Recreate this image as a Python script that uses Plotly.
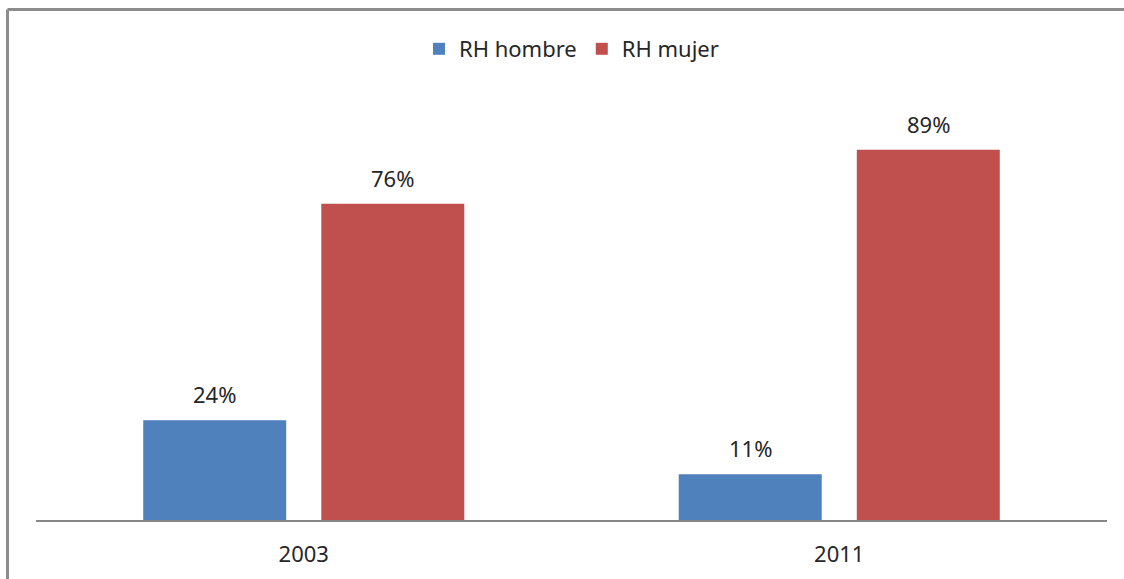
import plotly.graph_objects as go

years = ["2003", "2011"]
hombre = [24, 11]
mujer = [76, 89]

W, H = 1124, 579
ml, mr, mt, mb = 36, 17, 104, 59
pw, ph = W - ml - mr, H - mt - mb
bargap, bargroupgap = 0.335, 0.197
slot = (1 - bargap) / 2

fig = go.Figure()
fig.add_trace(go.Bar(name="RH hombre", x=years, y=hombre, marker_color="#4F81BD"))
fig.add_trace(go.Bar(name="RH mujer", x=years, y=mujer, marker_color="#C0504D"))
fig.update_traces(marker_line_width=0)

# value labels above each bar
for k, vals in enumerate([hombre, mujer]):
    off = (k - 0.5) * slot
    for i, v in enumerate(vals):
        fig.add_annotation(x=i + off, y=v, xref="x", yref="y", text=f"{v}%",
                           showarrow=False, yanchor="middle", yshift=26,
                           font=dict(size=22, color="#262626"))

# outer frame (left and top edges)
gray = "#8c8c8c"
fx = (7.5 - ml) / pw
fy = (H - mb - 9.5) / ph
fig.add_shape(type="line", xref="paper", yref="paper",
              x0=fx, x1=fx, y0=fy, y1=-1, line=dict(color=gray, width=3))
fig.add_shape(type="line", xref="paper", yref="paper",
              x0=fx, x1=1.2, y0=fy, y1=fy, line=dict(color=gray, width=3))

fig.update_layout(
    width=W, height=H,
    margin=dict(l=ml, r=mr, t=mt, b=mb),
    paper_bgcolor="white", plot_bgcolor="white",
    barmode="group", bargap=bargap, bargroupgap=bargroupgap,
    font=dict(family="Noto Sans, Open Sans, sans-serif", size=22, color="#262626"),
    showlegend=True,
    legend=dict(orientation="h", x=0.5, xanchor="center", y=(H - mb - 49) / ph,
                yanchor="middle", font=dict(size=22), traceorder="normal",
                itemwidth=30),
    xaxis=dict(showline=True, linecolor="#878787", linewidth=1.5,
               ticks="", showgrid=False, tickfont=dict(size=22),
               ticklabelstandoff=14),
    yaxis=dict(range=[0, 100], visible=False, showgrid=False, zeroline=False),
)

fig.write_html("out.html", config={"displayModeBar": False},
               post_script="document.body.style.margin='0';")
